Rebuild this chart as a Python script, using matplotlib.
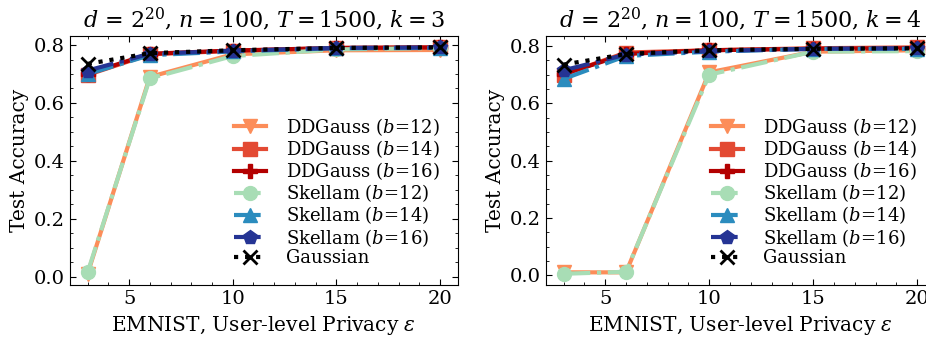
import numpy as np
import matplotlib
matplotlib.use('Agg')
import matplotlib.pyplot as plt
from matplotlib.ticker import MultipleLocator

# 공통 설정
plt.rcParams['font.family'] = 'DejaVu Serif'
plt.rcParams['mathtext.fontset'] = 'dejavuserif'
plt.rcParams['xtick.direction'] = 'in'
plt.rcParams['ytick.direction'] = 'in'
plt.rcParams['xtick.top'] = True
plt.rcParams['ytick.right'] = True

eps = [3, 6, 10, 15, 20]

# k = 3
k3_dd12 = [0.010, 0.690, 0.768, 0.782, 0.783]
k3_dd14 = [0.697, 0.768, 0.780, 0.790, 0.792]
k3_dd16 = [0.700, 0.770, 0.781, 0.790, 0.792]
k3_sk12 = [0.015, 0.685, 0.762, 0.785, 0.790]
k3_sk14 = [0.700, 0.765, 0.778, 0.789, 0.790]
k3_sk16 = [0.712, 0.770, 0.780, 0.790, 0.792]
k3_gauss = [0.735, 0.772, 0.782, 0.790, 0.792]

# k = 4
k4_dd12 = [0.010, 0.010, 0.708, 0.780, 0.785]
k4_dd14 = [0.700, 0.777, 0.785, 0.792, 0.795]
k4_dd16 = [0.702, 0.772, 0.785, 0.790, 0.792]
k4_sk12 = [0.005, 0.012, 0.700, 0.780, 0.782]
k4_sk14 = [0.685, 0.765, 0.780, 0.790, 0.790]
k4_sk16 = [0.715, 0.770, 0.782, 0.790, 0.792]
k4_gauss = [0.735, 0.772, 0.785, 0.790, 0.792]

labels = ['DDGauss ($b$=12)', 'DDGauss ($b$=14)', 'DDGauss ($b$=16)',
          'Skellam ($b$=12)', 'Skellam ($b$=14)', 'Skellam ($b$=16)', 'Gaussian']
colors = ['#fc8d59', '#e34a33', '#b30000', '#a8ddb5', '#2b8cbe', '#253494', 'black']
markers = ['v', 's', 'P', 'o', '^', 'p', 'x']
styles = ['-', '-', '-', '-.', '-.', '-.', ':']

panels = [
    (3, [k3_dd12, k3_dd14, k3_dd16, k3_sk12, k3_sk14, k3_sk16, k3_gauss]),
    (4, [k4_dd12, k4_dd14, k4_dd16, k4_sk12, k4_sk14, k4_sk16, k4_gauss]),
]

fig = plt.figure(figsize=(9.26, 3.37), dpi=100)
axes = [fig.add_axes([0.0756, 0.154, 0.4186, 0.739]),
        fig.add_axes([0.5896, 0.154, 0.4200, 0.739])]

for ax, (k, series) in zip(axes, panels):
    for y, lab, c, m, ls in zip(series, labels, colors, markers, styles):
        ax.plot(eps, y, linestyle=ls, color=c, marker=m, label=lab,
                linewidth=3, markersize=10, markeredgewidth=2 if m == 'x' else 1,
                markeredgecolor=c)
    ax.set_title(r'$d$ = $2^{20}$, $n=100$, $T=1500$, $k=%d$' % k, fontsize=16)
    ax.set_xlabel(r'EMNIST, User-level Privacy $\varepsilon$', fontsize=14.5)
    ax.set_ylabel('Test Accuracy', fontsize=14.5)
    ax.set_xticks([5, 10, 15, 20])
    ax.set_yticks([0.0, 0.2, 0.4, 0.6, 0.8])
    ax.xaxis.set_minor_locator(MultipleLocator(1))
    ax.yaxis.set_minor_locator(MultipleLocator(0.05))
    ax.tick_params(which='both', direction='in', top=True, right=True, labelsize=14)
    ax.tick_params(which='major', length=4)
    ax.tick_params(which='minor', length=2)
    ax.legend(loc='lower right', frameon=False, fontsize=13,
              handlelength=1.75, handletextpad=1.1, labelspacing=0.02,
              borderaxespad=0.6)

plt.savefig('out.png', dpi=100)
